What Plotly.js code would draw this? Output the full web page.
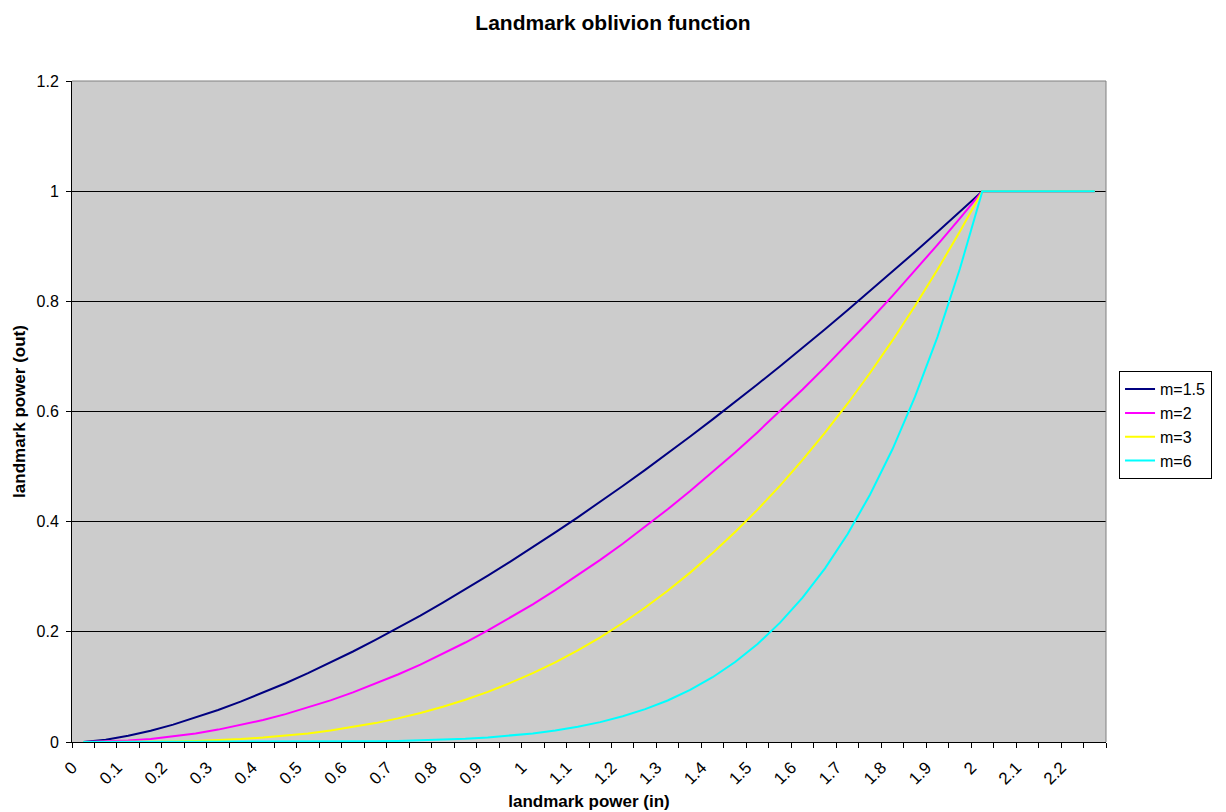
<!DOCTYPE html>
<html>
<head>
<meta charset="utf-8">
<script src="https://cdn.plot.ly/plotly-3.0.1.min.js"></script>
<style>html,body{margin:0;padding:0;background:#fff;}#chart{width:1226px;height:812px;}</style>
</head>
<body>
<div id="chart"></div>
<script>
const xIn = [0,0.05,0.1,0.15,0.2,0.25,0.3,0.35,0.4,0.45,0.5,0.55,0.6,0.65,0.7,0.75,0.8,0.85,0.9,0.95,1,1.05,1.1,1.15,1.2,1.25,1.3,1.35,1.4,1.45,1.5,1.55,1.6,1.65,1.7,1.75,1.8,1.85,1.9,1.95,2,2.05,2.1,2.15,2.2,2.25];
const tickLabels = ['0','0.1','0.2','0.3','0.4','0.5','0.6','0.7','0.8','0.9','1','1.1','1.2','1.3','1.4','1.5','1.6','1.7','1.8','1.9','2','2.1','2.2'];
const seriesNames = ['m=1.5','m=2','m=3','m=6'];
const m15 = [0,0.004,0.0112,0.0205,0.0316,0.0442,0.0581,0.0732,0.0894,0.1067,0.125,0.1442,0.1643,0.1853,0.2071,0.2296,0.253,0.2771,0.3019,0.3274,0.3536,0.3804,0.4079,0.436,0.4648,0.4941,0.524,0.5546,0.5857,0.6173,0.6495,0.6823,0.7155,0.7493,0.7837,0.8185,0.8538,0.8896,0.9259,0.9627,1,1,1,1,1,1];
const m2 = [0,0.0006,0.0025,0.0056,0.01,0.0156,0.0225,0.0306,0.04,0.0506,0.0625,0.0756,0.09,0.1056,0.1225,0.1406,0.16,0.1806,0.2025,0.2256,0.25,0.2756,0.3025,0.3306,0.36,0.3906,0.4225,0.4556,0.49,0.5256,0.5625,0.6006,0.64,0.6806,0.7225,0.7656,0.81,0.8556,0.9025,0.9506,1,1,1,1,1,1];
const m3 = [0,0,0.0001,0.0004,0.001,0.002,0.0034,0.0054,0.008,0.0114,0.0156,0.0208,0.027,0.0343,0.0429,0.0527,0.064,0.0768,0.0911,0.1072,0.125,0.1447,0.1664,0.1901,0.216,0.2441,0.2746,0.3075,0.343,0.3811,0.4219,0.4655,0.512,0.5615,0.6141,0.6699,0.729,0.7915,0.8574,0.9269,1,1,1,1,1,1];
const m6 = [0,0,0,0,0,0,0,0,0.0001,0.0001,0.0002,0.0004,0.0007,0.0012,0.0018,0.0028,0.0041,0.0059,0.0083,0.0115,0.0156,0.0209,0.0277,0.0361,0.0467,0.0596,0.0754,0.0946,0.1176,0.1452,0.178,0.2167,0.2621,0.3153,0.3772,0.4488,0.5314,0.6264,0.7351,0.8591,1,1,1,1,1,1];
const colors = ['#000080','#FF00FF','#FFFF00','#00FFFF'];

const cats = xIn.map(String);
const ticktext = cats.map((c,i) => (i % 2 === 0) ? tickLabels[i/2] : '');
const ys = [m15, m2, m3, m6];
const font = 'Liberation Sans, Arial, sans-serif';

const traces = ys.map((y,k) => ({
  type: 'scatter', mode: 'lines', x: cats, y: y, name: seriesNames[k],
  line: {color: colors[k], width: 2}
}));

const layout = {
  width: 1226, height: 812,
  margin: {l: 72, r: 120, t: 81, b: 70},
  paper_bgcolor: '#ffffff',
  plot_bgcolor: '#cccccc',
  font: {family: font, size: 16, color: '#000'},
  title: {text: '<b>Landmark oblivion function</b>', font: {family: font, size: 21, color: '#000'},
          x: 0.5, xref: 'container', y: 0.972, yref: 'container', yanchor: 'middle'},
  xaxis: {
    type: 'category', tickson: 'boundaries', tickvals: cats, ticktext: ticktext,
    tickangle: -45, ticks: 'outside', ticklen: 5, tickcolor: '#000', tickwidth: 1,
    ticklabelstandoff: 8, ticklabelshift: -11,
    showline: true, linecolor: '#000', linewidth: 1, showgrid: false,
    range: [-0.5, 45.5], tickfont: {family: font, size: 17},
    title: {text: '<b>landmark power (in)</b>', font: {family: font, size: 17}, standoff: 7},
    automargin: false
  },
  yaxis: {
    range: [0, 1.2], tickvals: [0,0.2,0.4,0.6,0.8,1,1.2], ticktext: ['0','0.2','0.4','0.6','0.8','1','1.2'],
    ticks: 'outside', ticklen: 5, tickcolor: '#000', showline: true, linecolor: '#000', linewidth: 1,
    showgrid: true, gridcolor: '#000', gridwidth: 1, zeroline: false,
    tickfont: {family: font, size: 16}, ticklabelstandoff: 4,
    title: {text: '<b>landmark power (out)</b>', font: {family: font, size: 17}, standoff: 6},
    automargin: false
  },
  legend: {
    x: 1.0126, xanchor: 'left', y: 0.561, yanchor: 'top',
    bgcolor: '#ffffff', bordercolor: '#000', borderwidth: 1,
    font: {family: font, size: 16}, tracegroupgap: 0
  },
  shapes: [
    {type: 'line', xref: 'paper', yref: 'paper', x0: 0, x1: 1, y0: 1, y1: 1, line: {color: '#808080', width: 1}, layer: 'above'},
    {type: 'line', xref: 'paper', yref: 'paper', x0: 1, x1: 1, y0: 0, y1: 1, line: {color: '#808080', width: 1}, layer: 'above'}
  ],
  showlegend: true
};

Plotly.newPlot('chart', traces, layout, {displayModeBar: false, staticPlot: true});
</script>
</body>
</html>
